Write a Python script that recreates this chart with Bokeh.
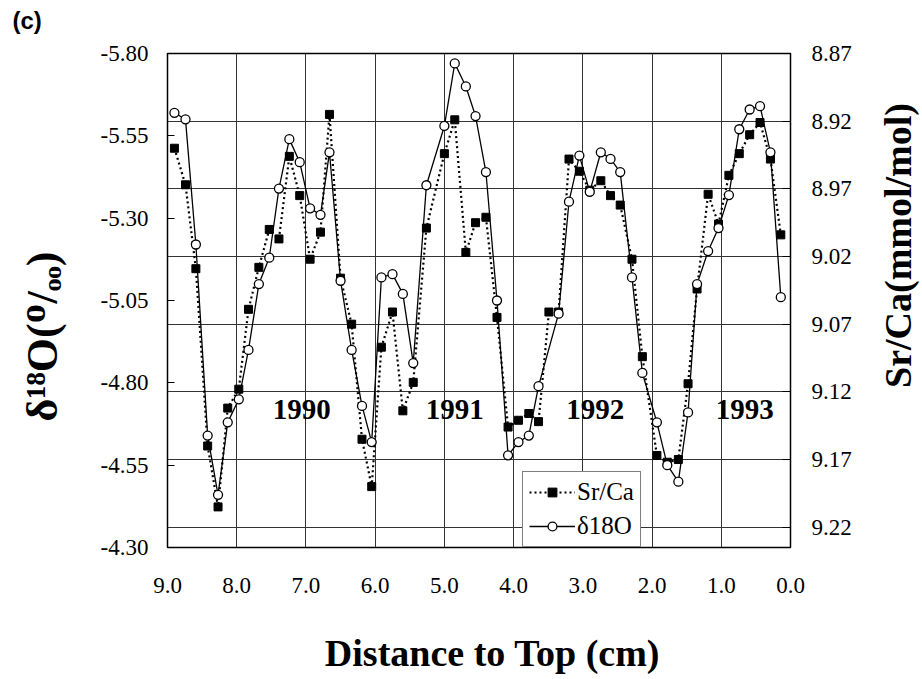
import math
from bokeh.plotting import figure
from bokeh.layouts import row, column
from bokeh.models import (Range1d, LinearAxis, FixedTicker, NumeralTickFormatter, Grid,
                          Legend, LegendItem, Label)
from bokeh.core.properties import value
from bokeh.embed import file_html
from bokeh.resources import INLINE

# ---------------- data ----------------
depth_d18o = [8.90, 8.74, 8.59, 8.42, 8.27, 8.13, 7.97, 7.83, 7.68, 7.53,
              7.39, 7.24, 7.09, 6.94, 6.79, 6.66, 6.50, 6.34, 6.19, 6.05,
              5.91, 5.75, 5.60, 5.45, 5.26, 5.00, 4.85, 4.69, 4.55,
              4.40, 4.24, 4.08, 3.93, 3.78, 3.64, 3.35, 3.20, 3.05, 2.90,
              2.74, 2.60, 2.46, 2.29, 2.14, 1.93, 1.78, 1.62, 1.48, 1.35,
              1.19, 1.04, 0.89, 0.74, 0.59, 0.44, 0.29, 0.14]
d18o = [-5.62, -5.60, -5.22, -4.64, -4.46, -4.68, -4.75, -4.90, -5.10, -5.18,
        -5.39, -5.54, -5.47, -5.33, -5.31, -5.50, -5.11, -4.90, -4.73, -4.62,
        -5.12, -5.13, -5.07, -4.86, -5.40, -5.58, -5.77, -5.70, -5.61,
        -5.44, -5.05, -4.58, -4.62, -4.64, -4.79, -5.01, -5.35, -5.49, -5.38,
        -5.50, -5.48, -5.44, -5.12, -4.83, -4.68, -4.55, -4.50, -4.71, -5.10,
        -5.20, -5.27, -5.37, -5.57, -5.63, -5.64, -5.50, -5.06]

depth_srca = [8.90, 8.74, 8.59, 8.42, 8.27, 8.13, 7.97, 7.83, 7.68, 7.53,
              7.39, 7.24, 7.09, 6.94, 6.79, 6.66, 6.50, 6.34, 6.19, 6.05,
              5.91, 5.75, 5.60, 5.45, 5.26, 5.00, 4.85, 4.69, 4.55, 4.40,
              4.24, 4.08, 3.93, 3.78, 3.64, 3.49, 3.35, 3.20, 3.05, 2.90,
              2.74, 2.60, 2.46, 2.29, 2.14, 1.93, 1.78, 1.62, 1.48, 1.35,
              1.19, 1.04, 0.89, 0.74, 0.59, 0.44, 0.29, 0.14]
srca = [8.940, 8.967, 9.029, 9.160, 9.205, 9.132, 9.118, 9.059, 9.028, 9.000,
        9.007, 8.946, 8.975, 9.022, 9.002, 8.915, 9.036, 9.070, 9.155, 9.190,
        9.087, 9.061, 9.134, 9.113, 8.999, 8.944, 8.919, 9.017, 8.995, 8.991,
        9.065, 9.146, 9.141, 9.136, 9.142, 9.061, 9.061, 8.948, 8.957, 8.971,
        8.964, 8.975, 8.982, 9.022, 9.094, 9.167, 9.172, 9.170, 9.114, 9.044,
        8.974, 8.996, 8.960, 8.944, 8.930, 8.921, 8.948, 9.004]

x_ticks = [9.0, 8.0, 7.0, 6.0, 5.0, 4.0, 3.0, 2.0, 1.0, 0.0]
left_ticks = [-5.80, -5.55, -5.30, -5.05, -4.80, -4.55, -4.30]
right_ticks = [8.87, 8.92, 8.97, 9.02, 9.07, 9.12, 9.17, 9.22]

year_labels = ["1990", "1991", "1992", "1993"]
year_x = [7.06, 4.85, 2.82, 0.66]
year_y = [-4.72, -4.72, -4.72, -4.72]

SERIF = "Liberation Serif"
MAIN_H = 630


def strip(w, h):
    """Blank figure used only to hold title text outside the plot box."""
    s = figure(width=w, height=h, output_backend="svg", toolbar_location=None,
               x_axis_type=None, y_axis_type=None, min_border=0,
               x_range=Range1d(0, w), y_range=Range1d(h, 0))
    s.outline_line_color = None
    s.background_fill_color = "white"
    s.border_fill_color = "white"
    try:
        s.frame_align = False
    except Exception:
        pass
    return s


# ---------------- main figure ----------------
p = figure(width=790, height=MAIN_H, output_backend="svg", toolbar_location=None,
           x_range=Range1d(9.0, 0.0), y_range=Range1d(-4.30, -5.80),
           min_border_left=87, min_border_right=80, min_border_top=53,
           min_border_bottom=83)
p.extra_y_ranges = {"sr": Range1d(9.235, 8.87)}
p.background_fill_color = "white"
p.border_fill_color = "white"
p.outline_line_color = "black"
p.outline_line_width = 1.5

# x axis
xa = p.xaxis[0]
xa.ticker = FixedTicker(ticks=x_ticks)
xa.formatter = NumeralTickFormatter(format="0.0")
xa.axis_line_color = None
xa.major_tick_in = 0
xa.major_tick_out = 0
xa.minor_tick_line_color = None
xa.major_label_text_font = SERIF
xa.major_label_text_font_size = "23px"
xa.major_label_text_color = "black"
xa.major_label_standoff = 30

# left axis
ya = p.yaxis[0]
ya.ticker = FixedTicker(ticks=left_ticks)
ya.formatter = NumeralTickFormatter(format="0.00")
ya.axis_line_color = None
ya.major_tick_in = 7
ya.major_tick_out = 0
ya.major_tick_line_color = "black"
ya.minor_tick_line_color = None
ya.major_label_text_font = SERIF
ya.major_label_text_font_size = "23px"
ya.major_label_text_color = "black"
ya.major_label_standoff = 19

# right axis
ra = LinearAxis(y_range_name="sr", ticker=FixedTicker(ticks=right_ticks),
                formatter=NumeralTickFormatter(format="0.00"))
ra.axis_line_color = None
ra.major_tick_in = 8
ra.major_tick_out = 0
ra.minor_tick_line_color = None
ra.major_label_text_font = SERIF
ra.major_label_text_font_size = "23px"
ra.major_label_text_color = "black"
ra.major_label_standoff = 21
p.add_layout(ra, "right")

# grids
p.xgrid.ticker = FixedTicker(ticks=[1.0, 2.0, 3.0, 4.0, 5.0, 6.0, 7.0, 8.0])
p.xgrid.grid_line_color = "#333333"
p.xgrid.grid_line_width = 1
p.ygrid.visible = False
hgrid = Grid(dimension=1, ticker=FixedTicker(ticks=right_ticks), y_range_name="sr",
             grid_line_color="#333333", grid_line_width=1)
p.add_layout(hgrid, "center")

# ---------------- series ----------------
sr_line = p.line(depth_srca, srca, y_range_name="sr", line_color="black",
                 line_width=2.2, line_dash="2 3")
d_line = p.line(depth_d18o, d18o, line_color="black", line_width=1.3)
sr_pts = p.scatter(depth_srca, srca, y_range_name="sr", marker="square", size=8,
                   fill_color="black", line_color="black")
d_pts = p.scatter(depth_d18o, d18o, marker="circle", size=9, fill_color="white",
                  line_color="black", line_width=1.3)

# year labels
p.text(x=year_x, y=year_y, text=year_labels, text_font=value(SERIF),
       text_font_size="29px", text_font_style="bold", text_color="black",
       text_align="center", text_baseline="middle")

# legend
legend = Legend(items=[LegendItem(label="Sr/Ca", renderers=[sr_line, sr_pts]),
                       LegendItem(label="δ18O", renderers=[d_line, d_pts])],
                location=(355, 0), margin=0, padding=6, spacing=6,
                glyph_width=46, glyph_height=22, label_standoff=2,
                label_text_font=SERIF, label_text_font_size="25px",
                label_text_color="black", border_line_color="black",
                border_line_width=1.2, background_fill_color="white",
                background_fill_alpha=1.0)
p.add_layout(legend, "center")

# ---------------- title strips ----------------
left_strip = strip(80, MAIN_H)
left_strip.add_layout(Label(x=42, y=336, text="δ¹⁸O(ᴼ/ₒₒ)", angle=math.pi / 2,
                            text_font=SERIF, text_font_size="44px",
                            text_font_style="bold", text_color="black",
                            text_align="center", text_baseline="middle"))
left_strip.add_layout(Label(x=12, y=20, text="(c)", text_font="Liberation Sans",
                            text_font_size="24px", text_font_style="bold",
                            text_color="black", text_align="left",
                            text_baseline="middle"))

right_strip = strip(50, MAIN_H)
right_strip.add_layout(Label(x=27, y=245, text="Sr/Ca(mmol/mol)", angle=math.pi / 2,
                             text_font=SERIF, text_font_size="38px",
                             text_font_style="bold", text_color="black",
                             text_align="center", text_baseline="middle"))

bottom_strip = strip(920, 45)
bottom_strip.add_layout(Label(x=492, y=22, text="Distance to Top (cm)",
                              text_font=SERIF, text_font_size="38px",
                              text_font_style="bold", text_color="black",
                              text_align="center", text_baseline="middle"))

layout = column(row(left_strip, p, right_strip), bottom_strip)
open("out.html", "w").write(file_html(layout, INLINE))
